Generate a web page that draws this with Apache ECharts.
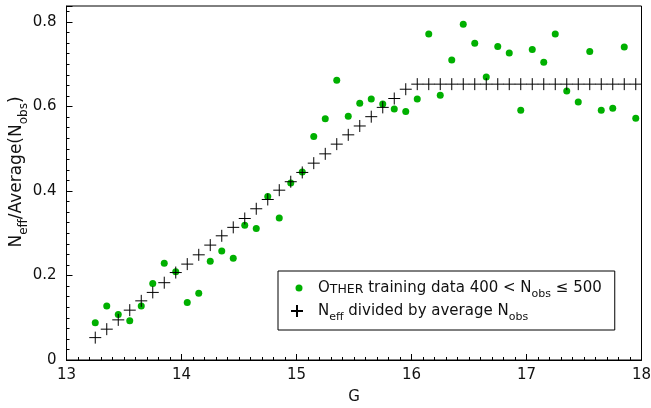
<!DOCTYPE html>
<html>
<head>
<meta charset="utf-8">
<script src="https://cdn.jsdelivr.net/npm/echarts@6/dist/echarts.min.js"></script>
<style>html,body{margin:0;padding:0;background:#fff}#c{width:651px;height:408px}</style>
</head>
<body>
<div id="c"></div>
<script>
const gValues = [13.25,13.35,13.45,13.55,13.65,13.75,13.85,13.95,14.05,14.15,14.25,14.35,14.45,14.55,14.65,14.75,14.85,14.95,15.05,15.15,15.25,15.35,15.45,15.55,15.65,15.75,15.85,15.95,16.05,16.15,16.25,16.35,16.45,16.55,16.65,16.75,16.85,16.95,17.05,17.15,17.25,17.35,17.45,17.55,17.65,17.75,17.85,17.95];
const otherData = [0.088,0.128,0.108,0.093,0.128,0.181,0.229,0.209,0.136,0.158,0.234,0.258,0.241,0.319,0.311,0.387,0.336,0.419,0.445,0.529,0.571,0.662,0.577,0.608,0.618,0.606,0.594,0.588,0.618,0.772,0.627,0.710,0.795,0.750,0.670,0.742,0.727,0.591,0.735,0.705,0.772,0.637,0.611,0.730,0.591,0.596,0.741,0.572];
const neffRatio = [0.053,0.073,0.095,0.118,0.140,0.160,0.183,0.207,0.227,0.249,0.272,0.294,0.314,0.335,0.358,0.380,0.402,0.422,0.444,0.466,0.488,0.511,0.533,0.554,0.576,0.598,0.619,0.641,0.653,0.653,0.653,0.653,0.653,0.653,0.653,0.653,0.653,0.653,0.653,0.653,0.653,0.653,0.653,0.653,0.653,0.653,0.653,0.653];
const xTicks = {min: 13, max: 18, interval: 1};
const yTicks = {min: 0, max: 0.838, interval: 0.2};

const FONT = 'DejaVu Sans';
const plusPath = 'path://M0,6H12M6,0V12';
const plusLegend = 'path://M0,0M20,20M3,10H15M9,4V16';
const dotLegend = 'path://M0,0M20,20M14.5,10A3.5,3.5,0,1,1,7.5,10A3.5,3.5,0,1,1,14.5,10Z';

const chart = echarts.init(document.getElementById('c'), null, {renderer: 'canvas'});
chart.setOption({
  animation: false,
  backgroundColor: '#fff',
  grid: {left: 66.5, right: 9.5, top: 6, bottom: 48, outerBoundsMode: 'none', containLabel: false,
    show: true, borderColor: '#000', borderWidth: 1, backgroundColor: 'transparent'},
  xAxis: {
    type: 'value', min: xTicks.min, max: xTicks.max, interval: xTicks.interval,
    name: 'G', nameLocation: 'middle', nameGap: 30, nameMoveOverlap: false,
    nameTextStyle: {fontFamily: FONT, fontSize: 15, color: '#111'},
    axisLine: {lineStyle: {color: '#000', width: 1}},
    axisTick: {inside: true, length: 6, lineStyle: {color: '#000'}},
    minorTick: {show: true, splitNumber: 10, length: 3, lineStyle: {color: '#000'}},
    splitLine: {show: false},
    axisLabel: {fontFamily: FONT, fontSize: 15, color: '#111', margin: 8}
  },
  yAxis: {
    type: 'value', min: yTicks.min, max: yTicks.max, interval: yTicks.interval,
    name: 'N{sub|eff}/Average(N{sub|obs})', nameLocation: 'middle', nameGap: 40, nameMoveOverlap: false,
    nameTextStyle: {fontFamily: FONT, fontSize: 17, color: '#111', lineHeight: 20, padding: [0, 0, 0, 22],
      rich: {sub: {fontSize: 12, fontFamily: FONT, color: '#111', verticalAlign: 'bottom', lineHeight: 20, padding: [0, 0, -3, 0]}}},
    axisLine: {lineStyle: {color: '#000', width: 1}},
    axisTick: {inside: true, length: 6, lineStyle: {color: '#000'}},
    minorTick: {show: true, splitNumber: 8, length: 3, lineStyle: {color: '#000'}},
    splitLine: {show: false},
    axisLabel: {fontFamily: FONT, fontSize: 15, color: '#111', margin: 10, showMaxLabel: false}
  },
  legend: {
    orient: 'vertical', left: 278, top: 271,
    padding: [7, 13, 7, 9], itemGap: 0, itemWidth: 20, itemHeight: 22,
    backgroundColor: '#fff', borderColor: '#000', borderWidth: 1, borderRadius: 0,
    data: [{name: 'other', icon: dotLegend}, {name: 'neff', icon: plusLegend}],
    formatter: function (name) {
      if (name === 'other') return '{t|O}{sc|THER}{t| training data 400 < N}{sub|obs}{t| ≤ 500}';
      return '{t|N}{sub|eff}{t| divided by average N}{sub|obs}';
    },
    textStyle: {
      fontFamily: FONT, fontSize: 15, color: '#111', padding: [0, 0, 0, 5],
      rich: {
        t: {fontFamily: FONT, fontSize: 15, color: '#111', lineHeight: 18},
        sc: {fontFamily: FONT, fontSize: 12.5, color: '#111', lineHeight: 18, verticalAlign: 'bottom', padding: [0, 0, 1, 0]},
        sub: {fontFamily: FONT, fontSize: 11, color: '#111', lineHeight: 18, verticalAlign: 'bottom', padding: [0, 0, -3, 0]}
      }
    }
  },
  series: [
    {
      name: 'other', type: 'scatter', symbol: 'circle', symbolSize: 7,
      itemStyle: {color: '#00b000', opacity: 1},
      data: gValues.map((g, i) => [g, otherData[i]]), z: 2
    },
    {
      name: 'neff', type: 'scatter', symbol: plusPath, symbolSize: 12,
      itemStyle: {color: 'transparent', borderColor: '#000', borderWidth: 1, opacity: 1},
      data: gValues.map((g, i) => [g, neffRatio[i]]), z: 3
    }
  ]
});
</script>
</body>
</html>
